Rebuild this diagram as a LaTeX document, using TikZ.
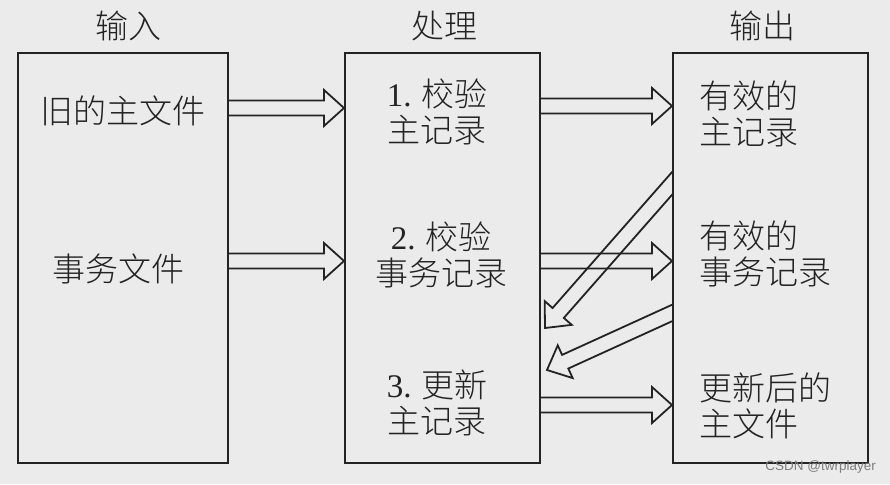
\documentclass[tikz,border=0pt]{standalone}
\usepackage{fontspec}
\setmainfont{Liberation Serif}
\newfontfamily\cjk{Noto Sans CJK SC Light}
\newfontfamily\wmfont{Liberation Sans}
\usetikzlibrary{calc}
\definecolor{bg}{RGB}{235,235,235}
\definecolor{ink}{RGB}{35,35,35}
\definecolor{wmgray}{RGB}{125,125,125}
\tikzset{
  box/.style={draw=ink, line width=2pt, minimum height=410pt, inner sep=0pt},
  lbl/.style={font=\fontsize{33}{36.5}\selectfont\cjk, text=ink, inner sep=0pt},
  barrow/.style={draw=ink, line width=1.8pt, line join=miter},
}
\newcommand\blockarrow[2]{%
  \coordinate (ba-hb) at ($(#2)!20pt!(#1)$);
  \draw[barrow] ($(#1)!7.5pt!90:(#2)$) -- ($(ba-hb)!7.5pt!90:(#2)$)
     -- ($(ba-hb)!18pt!90:(#2)$) -- (#2) -- ($(ba-hb)!18pt!-90:(#2)$)
     -- ($(ba-hb)!7.5pt!-90:(#2)$) -- ($(#1)!7.5pt!-90:(#2)$);
}
\begin{document}
\begin{tikzpicture}[x=1pt,y=-1pt]
  \fill[bg] (0,0) rectangle (890,484);
  \useasboundingbox (0,0) rectangle (890,484);

  % boxes
  \node[box, minimum width=210pt] (in)   at (123,258)   {};
  \node[box, minimum width=195pt] (proc) at (442.5,258) {};
  \node[box, minimum width=195pt] (out)  at (770.5,258) {};

  % titles
  \node[lbl] (t-in)   at (128,26) {输入};
  \node[lbl] (t-proc) at (444,26) {处理};
  \node[lbl] (t-out)  at (762,26) {输出};

  % input texts
  \node[lbl] (old)   at (122.5,111) {旧的主文件};
  \node[lbl] (trans) at (118,269)   {事务文件};

  % processing texts
  \node[lbl, align=center] (p1) at (437,112) {{\rmfamily 1.} 校验\\主记录};
  \node[lbl, align=center] (p2) at (441,255) {{\rmfamily 2.} 校验\\事务记录};
  \node[lbl, align=center] (p3) at (437,403) {{\rmfamily 3.} 更新\\主记录};

  % output texts
  \node[lbl, align=left, anchor=west] (o1) at (699,114) {有效的\\主记录};
  \node[lbl, align=left, anchor=west] (o2) at (699,254) {有效的\\事务记录};
  \node[lbl, align=left, anchor=west] (o3) at (699,406) {更新后的\\主文件};

  % row helpers
  \coordinate (r1) at (0,108);
  \coordinate (r2) at (0,261);
  \coordinate (r3) at (0,106);
  \coordinate (r4) at (0,405);

  % horizontal block arrows
  \coordinate (a1s) at (in.east |- r1);   \coordinate (a1e) at (proc.west |- r1);
  \coordinate (a2s) at (in.east |- r2);   \coordinate (a2e) at (proc.west |- r2);
  \coordinate (a3s) at (proc.east |- r3); \coordinate (a3e) at (out.west |- r3);
  \coordinate (a4s) at (proc.east |- r2); \coordinate (a4e) at (out.west |- r2);
  \coordinate (a5s) at (proc.east |- r4); \coordinate (a5e) at (out.west |- r4);
  \blockarrow{a1s}{a1e}
  \blockarrow{a2s}{a2e}
  \blockarrow{a3s}{a3e}
  \blockarrow{a4s}{a4e}
  \blockarrow{a5s}{a5e}

  % diagonal block arrows (feedback from output to processing)
  \coordinate (d1s) at (692,160.7); \coordinate (d1e) at (545,328);
  \coordinate (d2s) at (692,303.9); \coordinate (d2e) at (547,370);
  \begin{scope}
    \clip (0,0) rectangle (out.west |- 0,484);
    \blockarrow{d1s}{d1e}
    \blockarrow{d2s}{d2e}
  \end{scope}

  % watermark
  \node[font=\fontsize{13.5}{14}\selectfont\wmfont, text=wmgray, anchor=east, inner sep=0pt]
    (wm) at (876,467) {CSDN @twrplayer};
\end{tikzpicture}
\end{document}
